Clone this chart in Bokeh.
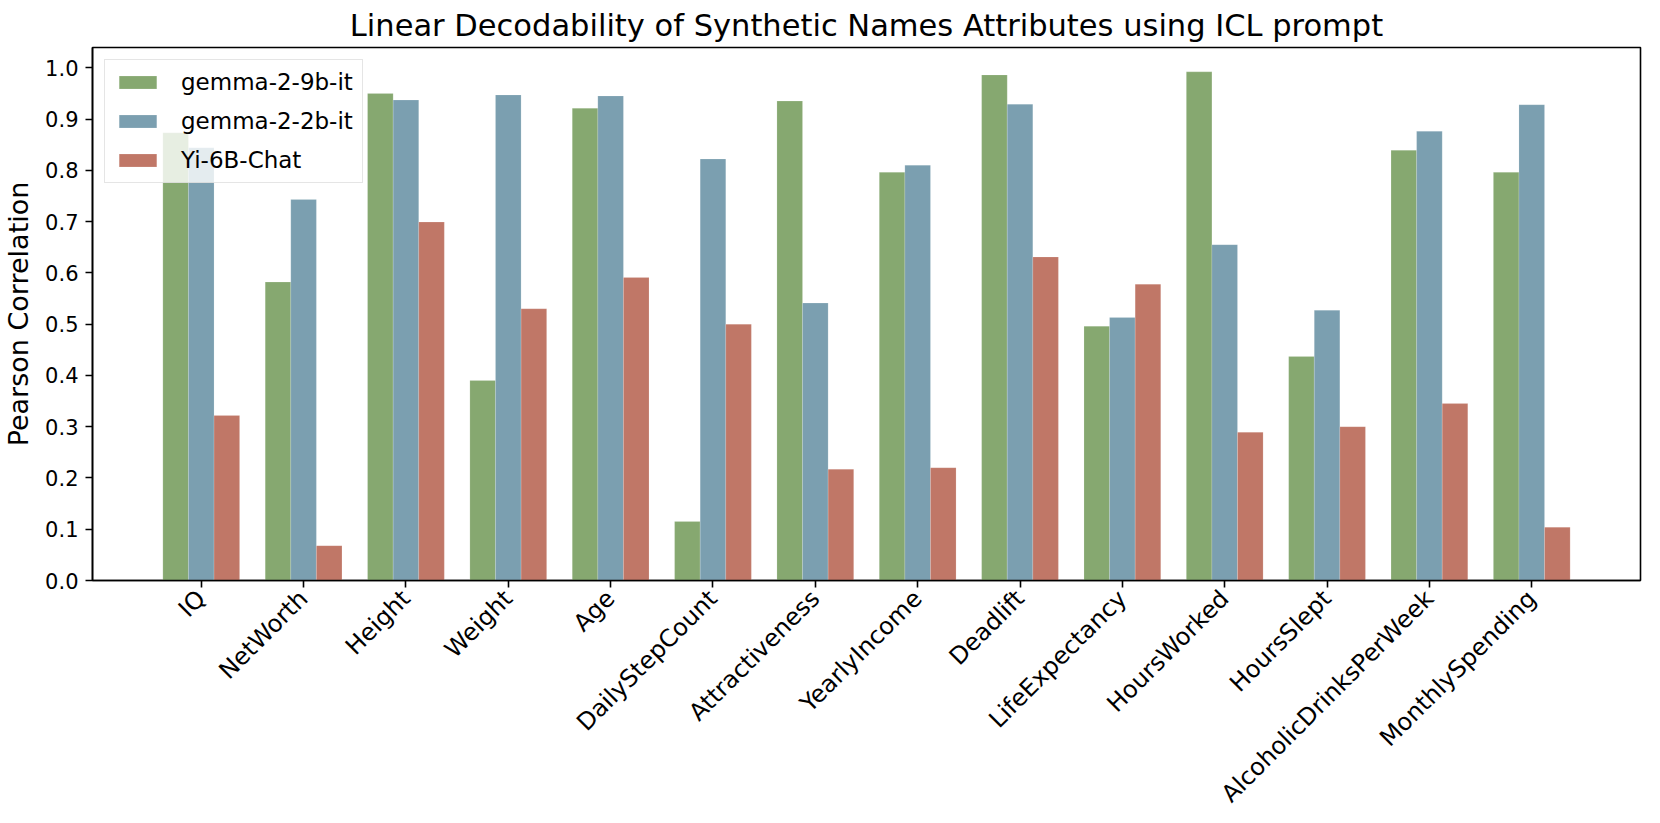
import math
import numpy as np
from bokeh.plotting import figure
from bokeh.models import Range1d, FixedTicker, ColumnDataSource, Legend, LegendItem
from bokeh.embed import file_html
from bokeh.resources import INLINE

categories = ["IQ", "NetWorth", "Height", "Weight", "Age", "DailyStepCount",
              "Attractiveness", "YearlyIncome", "Deadlift", "LifeExpectancy",
              "HoursWorked", "HoursSlept", "AlcoholicDrinksPerWeek", "MonthlySpending"]
gemma_9b = [0.873, 0.582, 0.950, 0.390, 0.921, 0.115, 0.935, 0.796, 0.986, 0.496, 0.992, 0.437, 0.839, 0.796]
gemma_2b = [0.844, 0.743, 0.937, 0.947, 0.945, 0.822, 0.541, 0.810, 0.929, 0.513, 0.655, 0.527, 0.876, 0.928]
yi_6b = [0.322, 0.068, 0.699, 0.530, 0.591, 0.500, 0.217, 0.220, 0.631, 0.578, 0.289, 0.300, 0.345, 0.104]
series_names = ["gemma-2-9b-it", "gemma-2-2b-it", "Yi-6B-Chat"]
colors = ["#86A870", "#7B9FB0", "#C07767"]
y_ticks = [0.0, 0.1, 0.2, 0.3, 0.4, 0.5, 0.6, 0.7, 0.8, 0.9, 1.0]

FONT = "DejaVu Sans"
bar_w = 0.25
n = len(categories)
idx = np.arange(n)

p = figure(frame_width=1548, frame_height=533, output_backend="svg", toolbar_location=None,
           x_range=Range1d(-1.0625, n - 1 + 1.0625), y_range=Range1d(0, 1.0395),
           min_border_left=90, min_border_right=6, min_border_top=41, min_border_bottom=233)
p.background_fill_color = "white"
p.border_fill_color = "white"
p.xgrid.visible = False
p.ygrid.visible = False
p.outline_line_color = "black"
p.outline_line_width = 1.6

all_series = [gemma_9b, gemma_2b, yi_6b]
renderers = []
for k, (vals, name, col) in enumerate(zip(all_series, series_names, colors)):
    src = ColumnDataSource(dict(x=idx + (k - 1) * bar_w, top=vals))
    r = p.vbar(x="x", top="top", width=bar_w, bottom=0, source=src,
               fill_color=col, line_color="white", line_alpha=0.15, line_width=1)
    renderers.append((name, r))

legend = Legend(items=[LegendItem(label=nm, renderers=[r]) for nm, r in renderers],
                location="top_left", margin=12, padding=9, spacing=13,
                glyph_width=47, glyph_height=16, label_standoff=20,
                label_text_font=FONT, label_text_font_size="23px",
                label_text_color="black",
                border_line_color="#cccccc", border_line_width=1.5,
                background_fill_alpha=0.8)
p.add_layout(legend)

p.title.text = "Linear Decodability of Synthetic Names Attributes using ICL prompt"
p.title.align = "center"
p.title.text_font = FONT
p.title.text_font_size = "30.5px"
p.title.text_font_style = "normal"
p.title.text_color = "black"

p.xaxis.ticker = FixedTicker(ticks=list(idx))
p.xaxis.major_label_overrides = {int(i): c for i, c in zip(idx, categories)}
p.xaxis.major_label_orientation = math.pi / 4
p.yaxis.ticker = FixedTicker(ticks=y_ticks)
p.yaxis.major_label_overrides = {t: f"{t:.1f}" for t in y_ticks}
p.yaxis.axis_label = "Pearson Correlation"

for ax in (p.xaxis[0], p.yaxis[0]):
    ax.major_label_text_font = FONT
    ax.major_label_text_color = "black"
    ax.axis_line_color = "black"
    ax.axis_line_width = 1.6
    ax.major_tick_line_color = "black"
    ax.major_tick_line_width = 1.6
    ax.major_tick_out = 7
    ax.major_tick_in = 0
    ax.minor_tick_out = 0
    ax.minor_tick_in = 0
    ax.major_label_standoff = 7

p.xaxis.major_label_text_font_size = "24px"
p.yaxis.major_label_text_font_size = "21px"

p.yaxis.axis_label_text_font = FONT
p.yaxis.axis_label_text_font_size = "27px"
p.yaxis.axis_label_text_font_style = "normal"
p.yaxis.axis_label_text_color = "black"
p.yaxis.axis_label_standoff = 8

open("out.html", "w").write(file_html(p, INLINE))
